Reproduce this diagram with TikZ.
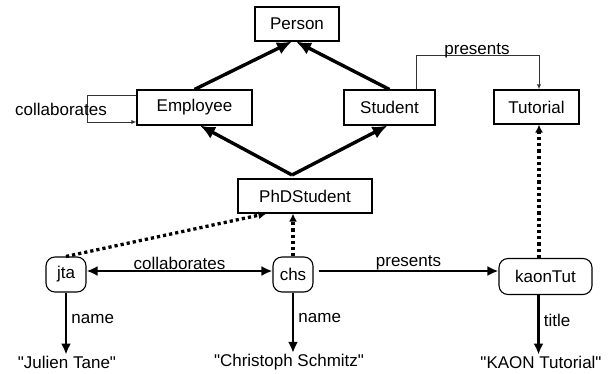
\documentclass[tikz,border=0pt]{standalone}
\usepackage{fontspec}
\setmainfont{Liberation Sans}[Ligatures=TeXOff]
\usetikzlibrary{arrows.meta}
\begin{document}
\begin{tikzpicture}[x=1pt,y=-1pt,
  every node/.style={font=\fontsize{17}{20}\selectfont},
  cls/.style={draw, line width=1.1pt, inner sep=0pt},
  inst/.style={draw, line width=1.1pt, rounded corners=9pt, inner sep=0pt},
  lit/.style={inner sep=1pt},
  isa/.style={line width=3.4pt, -{Latex[length=15pt,width=13pt]}},
  dotarrow/.style={line width=3.3pt, dash pattern=on 3.2pt off 3pt, -{Latex[length=8pt,width=8pt]}},
  relarrow/.style={line width=2.9pt, -{Latex[length=11pt,width=10pt]}},
  bothrel/.style={line width=2.9pt, {Latex[length=11pt,width=10pt]}-{Latex[length=11pt,width=10pt]}},
  thinrel/.style={line width=0.9pt, black!80, -{Latex[length=5pt,width=4pt]}},
  lbl/.style={inner sep=1pt}
]
\useasboundingbox (0,0) rectangle (611,373);

% classes
\node[cls, minimum width=84pt, minimum height=34pt] (person) at (297,24) {Person};
\node[cls, minimum width=115pt, minimum height=35pt] (employee) at (194.5,107.5) {Employee};
\node[cls, minimum width=91pt, minimum height=35pt] (student) at (389.5,107.5) {Student};
\node[cls, minimum width=85pt, minimum height=34pt] (tutorial) at (536.5,107) {Tutorial};
\node[cls, minimum width=134pt, minimum height=34pt] (phd) at (305,196) {PhDStudent};

% instances
\node[inst, minimum width=40pt, minimum height=35pt] (jta) at (66,274.5) {jta};
\node[inst, minimum width=40pt, minimum height=35pt] (chs) at (293,274.5) {chs};
\node[inst, minimum width=93pt, minimum height=36pt] (kaon) at (545.5,276.5) {kaonTut};

% literals
\node[lit] (jl) at (67,362) {"Julien Tane"};
\node[lit] (cs) at (289,362) {"Christoph Schmitz"};
\node[lit] (kt) at (541,362) {"KAON Tutorial"};

% subclass arrows
\draw[isa] (employee.north) -- ([xshift=-5pt]person.south);
\draw[isa] (student.north) -- ([xshift=-1pt]person.south);
\coordinate (apex) at (292,175);
\draw[isa] (apex) -- ([xshift=5.5pt]employee.south);
\draw[isa] (apex) -- ([xshift=-2pt]student.south);

% schema relations
\draw[thinrel] ([yshift=12.5pt]employee.west) -- ++(-49,0) |- ([yshift=-14.5pt]employee.west);
\node[lbl] (lcol) at (61,109) {collaborates};
\coordinate (tt) at ([xshift=2.5pt]tutorial.north);
\draw[thinrel] ([xshift=26.5pt]student.north) -- ++(0,-34) -| (tt);
\node[lbl, anchor=base] (lpres) at (477,54) {presents};

% instance-of arrows
\draw[dotarrow] (jta.north) -- ([xshift=29pt]phd.south west);
\draw[dotarrow] (chs.north) -- (chs.north |- phd.south);
\coordinate (tb) at ([xshift=2.5pt]tutorial.south);
\draw[dotarrow] (kaon.north -| tb) -- (tb);

% instance relations
\draw[bothrel] ([yshift=3.5pt]jta.east) -- node[lbl, above=-1pt] {collaborates} ([yshift=3.5pt]chs.west);
\draw[relarrow] ([yshift=3.5pt,xshift=5pt]chs.east) -- node[lbl, above=-1pt] {presents} ([yshift=3.5pt]chs.east -| kaon.west);

% attribute arrows
\draw[relarrow] (jta.south) -- node[lbl, right=3pt, pos=0.43] {name} (jta.south |- jl.north);
\draw[relarrow] (chs.south) -- node[lbl, right=3pt, pos=0.43] {name} (chs.south |- cs.north);
\coordinate (kb) at ([xshift=-7pt]kaon.south);
\draw[relarrow] (kb) -- node[lbl, right=3pt, pos=0.43] {title} (kb |- kt.north);
\end{tikzpicture}
\end{document}
